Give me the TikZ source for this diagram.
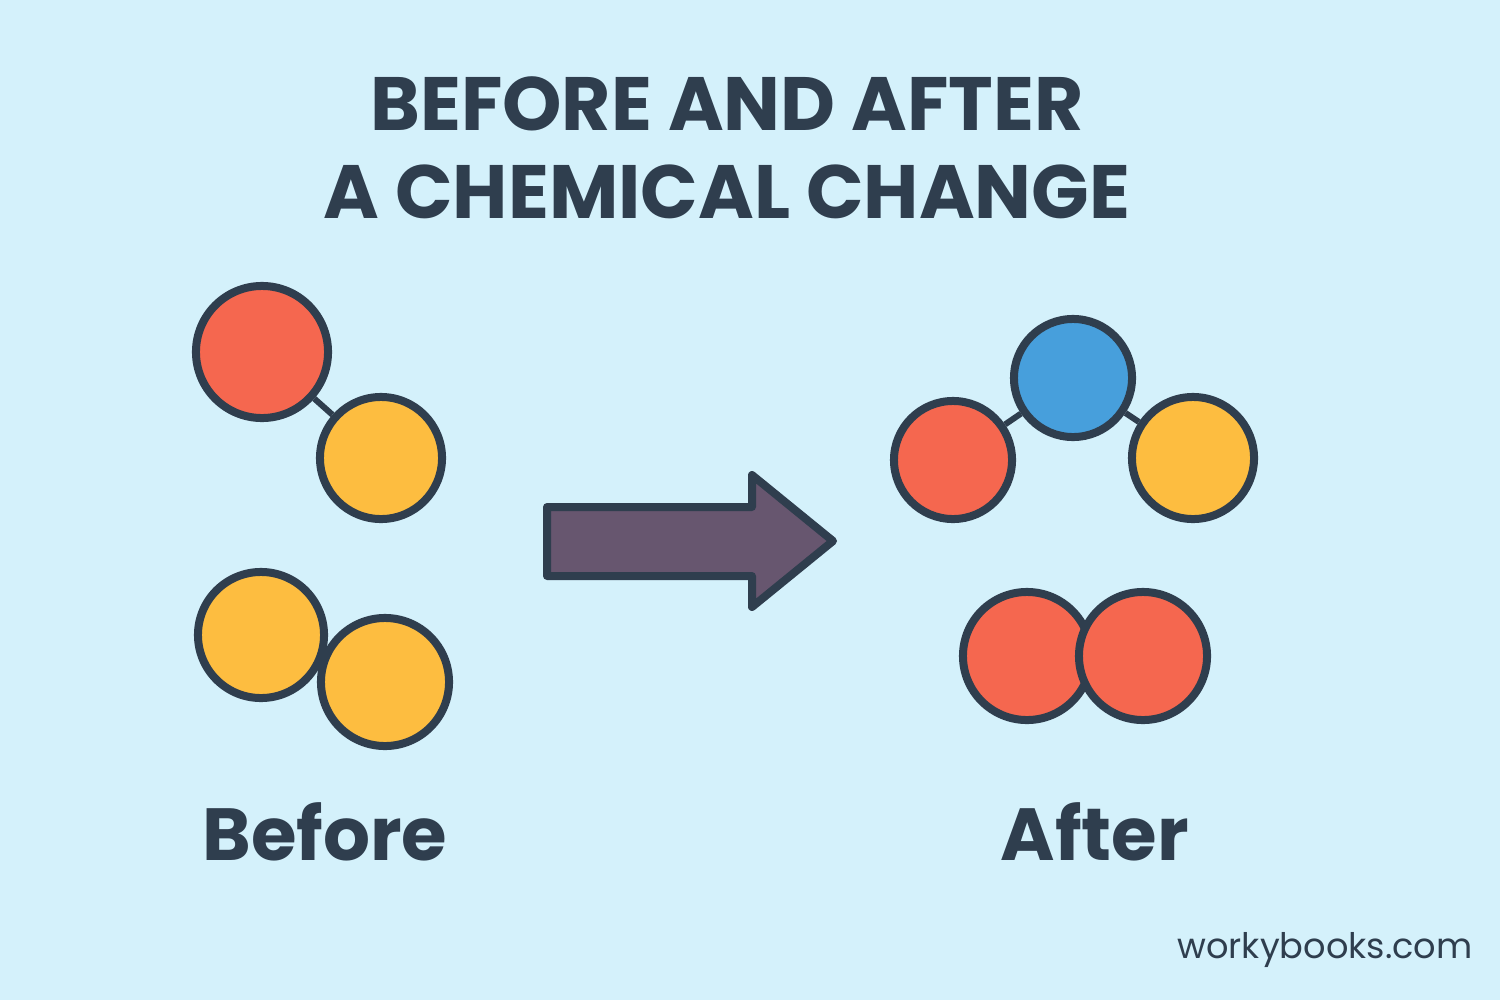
\documentclass[tikz,border=0pt]{standalone}
\usepackage{fontspec}
\setmainfont{Poppins}
\definecolor{bg}{HTML}{D4F1FB}
\definecolor{ink}{HTML}{2F3E4E}
\definecolor{cred}{HTML}{F5674F}
\definecolor{cyel}{HTML}{FDBD40}
\definecolor{cblu}{HTML}{479FDC}
\definecolor{cpur}{HTML}{67566F}
\tikzset{atom/.style={circle,draw=ink,line width=0.08cm,inner sep=0pt},
bond/.style={draw=ink,line width=0.06cm},
lbl/.style={text=ink,font=\bfseries\fontsize{21}{24}\selectfont}}
\begin{document}
\begin{tikzpicture}[x=0.01cm,y=-0.01cm]
\fill[bg] (0,0) rectangle (1500,1000);
\useasboundingbox (0,0) rectangle (1500,1000);
\node[text=ink,font=\bfseries\fontsize{21.5}{25}\selectfont,align=center] (title) at (727,148) {BEFORE AND AFTER\\A CHEMICAL CHANGE};
% before
\node[atom,fill=cred,minimum size=1.32cm] (b1) at (262,352) {};
\node[atom,fill=cyel,minimum size=1.22cm] (b2) at (381,458) {};
\draw[bond] (b1) -- (b2);
\node[atom,fill=cyel,minimum size=1.26cm] (b3) at (261,635) {};
\node[atom,fill=cyel,minimum size=1.28cm] (b4) at (385,682) {};
% arrow
\draw[ink,fill=cpur,line width=0.08cm,line join=round] (547,507) -- (752,507) -- (752,475) -- (833,541) -- (752,607) -- (752,576) -- (547,576) -- cycle;
% after
\node[atom,fill=cblu,minimum size=1.18cm] (a1) at (1073,378) {};
\node[atom,fill=cred,minimum size=1.18cm] (a2) at (953,460) {};
\node[atom,fill=cyel,minimum size=1.22cm] (a3) at (1193,458) {};
\draw[bond] (a1) -- (a2);
\draw[bond] (a1) -- (a3);
\node[atom,fill=cred,minimum size=1.28cm] (a4) at (1027,656) {};
\node[atom,fill=cred,minimum size=1.28cm] (a5) at (1143,656) {};
\node[lbl] (before) at (325,832) {Before};
\node[lbl] (after) at (1095,832) {After};
\node[text=ink,font=\fontsize{10}{12}\selectfont] (wb) at (1325,950) {workybooks.com};
\end{tikzpicture}
\end{document}
